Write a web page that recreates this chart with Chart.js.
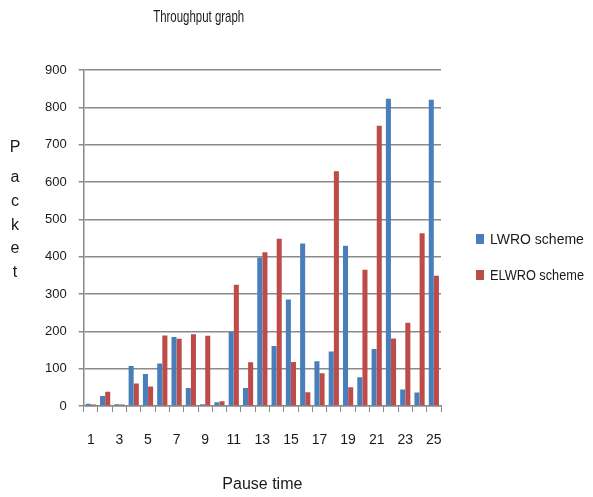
<!DOCTYPE html>
<html>
<head>
<meta charset="utf-8">
<script src="https://cdn.jsdelivr.net/npm/chart.js@4/dist/chart.umd.min.js"></script>
<style>
  html, body { margin: 0; padding: 0; background: #ffffff; }
  #wrap { width: 593px; height: 497px; }
</style>
</head>
<body>
<div id="wrap"><canvas id="c" width="593" height="497"></canvas></div>
<script>
// Pause time categories 1..25
const pauseTimes = [1,2,3,4,5,6,7,8,9,10,11,12,13,14,15,16,17,18,19,20,21,22,23,24,25];
// Throughput (packets) per scheme
const lwroValues  = [6, 27, 5, 107, 86, 114, 185, 48, 5, 10, 199, 48, 398, 161, 285, 435, 120, 146, 429, 77, 153, 823, 44, 36, 820];
const elwroValues = [4, 38, 4, 60, 52, 189, 180, 192, 188, 13, 325, 117, 412, 448, 118, 37, 88, 629, 50, 365, 751, 181, 223, 463, 349];
const seriesNames = ['LWRO scheme', 'ELWRO scheme'];
const seriesColors = ['#4A7EBB', '#BE4B48'];
const yTicks = { min: 0, max: 900, step: 100 };

const chartTitle = 'Throughput graph';
const yTitle = 'Packet';
const xTitle = 'Pause time';

const baseFont = "'Liberation Sans', Arial, sans-serif";

// Title, stacked y-axis title and legend drawn next to the plot
const decorations = {
  id: 'decorations',
  afterDraw(chart) {
    const ctx = chart.ctx;
    const area = chart.chartArea;
    ctx.save();
    ctx.fillStyle = '#1a1a1a';

    // chart title (condensed face)
    ctx.font = '17px ' + baseFont;
    ctx.textAlign = 'center';
    ctx.textBaseline = 'middle';
    ctx.fillText(chartTitle, area.left + 115, 17, 91);

    // vertical, letter-by-letter axis title
    ctx.font = '16px ' + baseFont;
    const letters = yTitle.split('');
    letters.forEach((ch, i) => {
      const y = (i === 0) ? 148 : 178 + (i - 1) * 23.6;
      ctx.fillText(ch, 15, y);
    });

    // legend
    ctx.font = '14px ' + baseFont;
    ctx.textAlign = 'left';
    chart.data.datasets.forEach((ds, i) => {
      const cy = 239 + i * 36;
      ctx.fillStyle = ds.backgroundColor;
      ctx.fillRect(area.right + 35, cy - 5, 8, 10);
      ctx.fillStyle = '#1a1a1a';
      ctx.fillText(ds.label, area.right + 49, cy + 1, 94);
    });
    ctx.restore();
  }
};

new Chart(document.getElementById('c'), {
  type: 'bar',
  data: {
    labels: pauseTimes,
    datasets: [
      { label: seriesNames[0], data: lwroValues,  backgroundColor: seriesColors[0] },
      { label: seriesNames[1], data: elwroValues, backgroundColor: seriesColors[1] }
    ]
  },
  options: {
    responsive: false,
    animation: false,
    layout: { padding: { top: 70, left: 33, right: 152, bottom: 3 } },
    datasets: { bar: { categoryPercentage: 0.72, barPercentage: 0.98 } },
    plugins: {
      legend: { display: false },
      title: { display: false },
      tooltip: { enabled: false }
    },
    scales: {
      x: {
        grid: {
          drawOnChartArea: false,
          offset: true,
          tickLength: 6,
          color: '#8a8a8a',
          lineWidth: 1
        },
        border: { color: '#8a8a8a', width: 1.5 },
        ticks: {
          autoSkip: false,
          maxRotation: 0,
          padding: 20,
          color: '#1a1a1a',
          font: { family: baseFont, size: 14 },
          callback(value, index) {
            return index % 2 === 0 ? this.getLabelForValue(value) : '';
          }
        },
        title: {
          display: true,
          text: xTitle,
          color: '#1a1a1a',
          font: { family: baseFont, size: 16 },
          padding: { top: 6, bottom: 0 }
        }
      },
      y: {
        min: yTicks.min,
        max: yTicks.max,
        grid: {
          color: '#8a8a8a',
          lineWidth: 1.5,
          tickLength: 5
        },
        border: { color: '#8a8a8a', width: 1.5 },
        ticks: {
          stepSize: yTicks.step,
          padding: 12,
          color: '#1a1a1a',
          font: { family: baseFont, size: 13 }
        }
      }
    }
  },
  plugins: [decorations]
});
</script>
</body>
</html>
